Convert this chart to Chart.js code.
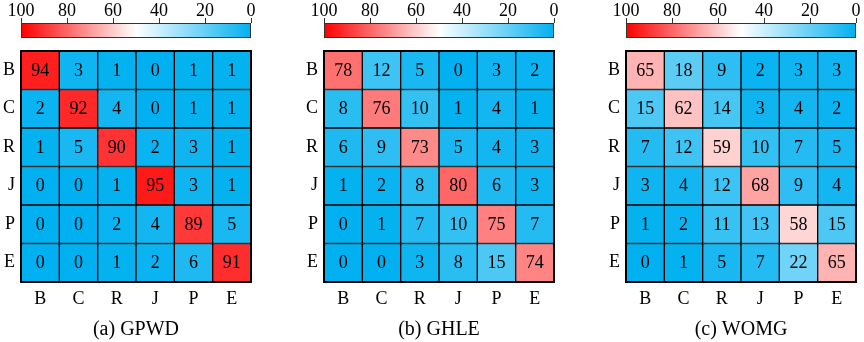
<!DOCTYPE html>
<html>
<head>
<meta charset="utf-8">
<script src="https://cdn.jsdelivr.net/npm/chart.js@4"></script>
<style>
html, body { margin: 0; padding: 0; background: #fff; }
body { width: 864px; height: 342px; position: relative; overflow: hidden; }
canvas { position: absolute; top: 0; }
</style>
</head>
<body>
<canvas id="c1" width="259" height="342" style="left:0px"></canvas>
<canvas id="c2" width="259" height="342" style="left:303px"></canvas>
<canvas id="c3" width="259" height="342" style="left:605px"></canvas>
<script>
// class labels (rows = true, columns = predicted)
var rowLabels = ['B', 'C', 'R', 'J', 'P', 'E'];
var colLabels = ['B', 'C', 'R', 'J', 'P', 'E'];
var colorbarTicks = [0, 20, 40, 60, 80, 100];

var gpwd = [
  [94, 3, 1, 0, 1, 1],
  [2, 92, 4, 0, 1, 1],
  [1, 5, 90, 2, 3, 1],
  [0, 0, 1, 95, 3, 1],
  [0, 0, 2, 4, 89, 5],
  [0, 0, 1, 2, 6, 91]
];
var ghle = [
  [78, 12, 5, 0, 3, 2],
  [8, 76, 10, 1, 4, 1],
  [6, 9, 73, 5, 4, 3],
  [1, 2, 8, 80, 6, 3],
  [0, 1, 7, 10, 75, 7],
  [0, 0, 3, 8, 15, 74]
];
var womg = [
  [65, 18, 9, 2, 3, 3],
  [15, 62, 14, 3, 4, 2],
  [7, 12, 59, 10, 7, 5],
  [3, 4, 12, 68, 9, 4],
  [1, 2, 11, 13, 58, 15],
  [0, 1, 5, 7, 22, 65]
];

var FAMILY = "'Liberation Serif', 'Times New Roman', serif";
var labelFont = { family: FAMILY, size: 18 };
var titleFont = { family: FAMILY, size: 20 };
Chart.defaults.color = '#000';

var BLUE = [0, 176, 240];
var RED = [255, 0, 0];
function heatColor(v) {
  var c;
  if (v <= 50) {
    var t = v / 50;
    c = BLUE.map(function (b) { return Math.round(b + (255 - b) * t); });
  } else {
    var t2 = (v - 50) / 50;
    c = RED.map(function (r) { return Math.round(255 + (r - 255) * t2); });
  }
  return 'rgb(' + c.join(',') + ')';
}

// draws the values inside each cell
var cellText = {
  id: 'cellText',
  afterDatasetsDraw: function (chart) {
    var ctx = chart.ctx;
    ctx.save();
    ctx.font = "18px " + FAMILY;
    ctx.fillStyle = '#000';
    ctx.textAlign = 'center';
    ctx.textBaseline = 'middle';
    chart.data.datasets.forEach(function (ds, i) {
      var meta = chart.getDatasetMeta(i);
      meta.data.forEach(function (el, j) {
        ctx.fillText(String(ds.cellValues[j]), el.x, (el.y + el.base) / 2 + 1);
      });
    });
    // outer frame
    var a = chart.chartArea;
    ctx.strokeStyle = '#000';
    ctx.lineWidth = 2;
    ctx.strokeRect(a.left, a.top, a.right - a.left, a.bottom - a.top);
    ctx.restore();
  }
};

// colour bar on the top axis
var colorBar = {
  id: 'colorBar',
  afterDraw: function (chart) {
    var s = chart.scales.x2;
    var ctx = chart.ctx;
    var x0 = s.getPixelForValue(100);
    var x1 = s.getPixelForValue(0);
    var top = 23, h = 14;
    ctx.save();
    var g = ctx.createLinearGradient(x0, 0, x1, 0);
    g.addColorStop(0, heatColor(100));
    g.addColorStop(0.5, heatColor(50));
    g.addColorStop(1, heatColor(0));
    ctx.fillStyle = g;
    ctx.fillRect(x0, top, x1 - x0, h);
    ctx.strokeStyle = '#333';
    ctx.lineWidth = 1;
    ctx.strokeRect(x0 + 0.5, top + 0.5, x1 - x0 - 1, h);
    ctx.beginPath();
    colorbarTicks.forEach(function (v) {
      var x = Math.round(s.getPixelForValue(v)) + 0.5;
      ctx.moveTo(x, top - 5);
      ctx.lineTo(x, top);
    });
    ctx.stroke();
    ctx.restore();
  }
};

function makeMatrix(id, data, title) {
  var datasets = [];
  for (var r = rowLabels.length - 1; r >= 0; r--) {
    datasets.push({
      label: rowLabels[r],
      data: colLabels.map(function () { return 1; }),
      cellValues: data[r],
      backgroundColor: data[r].map(heatColor),
      borderColor: '#000',
      borderWidth: 1,
      borderSkipped: false,
      barPercentage: 1,
      categoryPercentage: 1
    });
  }
  return new Chart(document.getElementById(id), {
    type: 'bar',
    data: { labels: colLabels, datasets: datasets },
    options: {
      responsive: false,
      devicePixelRatio: 1,
      animation: false,
      layout: { padding: { left: 0, right: 8, top: 0, bottom: 0 } },
      plugins: { legend: { display: false }, tooltip: { enabled: false } },
      scales: {
        x: {
          stacked: true,
          grid: { display: false, drawTicks: false },
          border: { display: false },
          ticks: { padding: 6, font: labelFont },
          title: { display: true, text: title, font: titleFont, padding: { top: 0, bottom: 0 } },
          afterFit: function (s) { s.height = 60; }
        },
        x2: {
          type: 'linear',
          position: 'top',
          offset: false,
          min: 0,
          max: 100,
          reverse: true,
          afterBuildTicks: function (s) {
            s.ticks = colorbarTicks.map(function (v) { return { value: v }; });
          },
          grid: { offset: false, drawOnChartArea: false, drawTicks: true, tickLength: 26, color: 'rgba(0,0,0,0)' },
          border: { display: false },
          ticks: { padding: 3, maxRotation: 0, autoSkip: false, font: labelFont },
          afterFit: function (s) { s.height = 51; }
        },
        y: {
          stacked: true,
          min: 0,
          max: 6,
          afterBuildTicks: function (s) {
            s.ticks = [0.5, 1.5, 2.5, 3.5, 4.5, 5.5].map(function (v) { return { value: v }; });
          },
          ticks: {
            padding: 6,
            font: labelFont,
            callback: function (v) { return rowLabels[rowLabels.length - 1 - Math.floor(v)]; }
          },
          grid: { display: false, drawTicks: false },
          border: { display: false },
          afterFit: function (s) { s.width = 21; }
        }
      }
    },
    plugins: [cellText, colorBar]
  });
}

makeMatrix('c1', gpwd, '(a) GPWD');
makeMatrix('c2', ghle, '(b) GHLE');
makeMatrix('c3', womg, '(c) WOMG');
</script>
</body>
</html>
